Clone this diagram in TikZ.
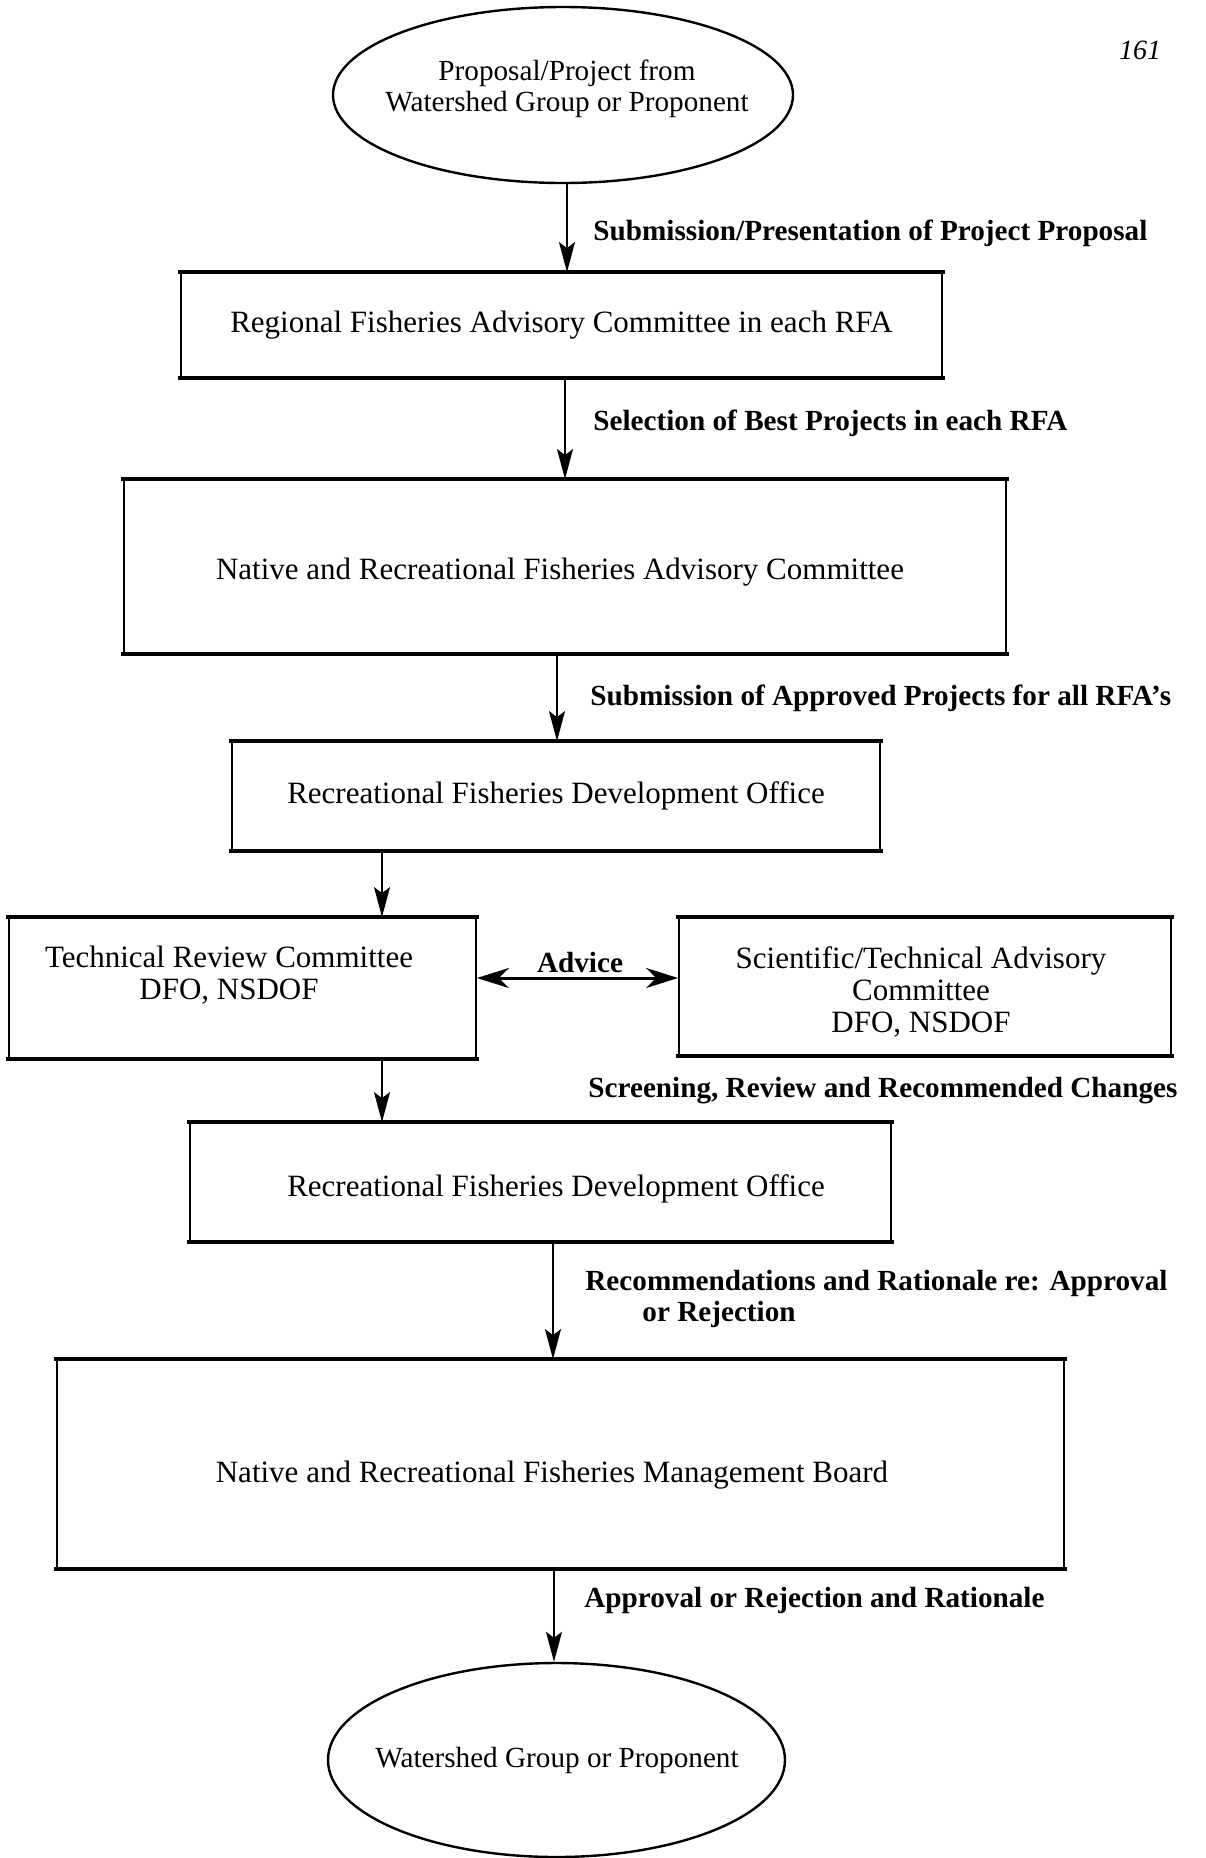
\documentclass[tikz,border=0pt]{standalone}
\usepackage{fontspec}
\setmainfont{Liberation Serif}
\usetikzlibrary{shapes.geometric,arrows.meta}
\begin{document}
\begin{tikzpicture}[x=0.5pt,y=-0.5pt,
  boxnode/.style={draw=black,line width=0.9pt,rectangle,inner sep=0pt,font=\fontsize{15.5}{18}\selectfont,align=center},
  ovalnode/.style={draw=black,line width=1.2pt,ellipse,inner sep=0pt},
  boxtext/.style={inner sep=0pt,align=center,font=\fontsize{15.5}{16}\selectfont},
  ovaltext/.style={inner sep=0pt,align=center,font=\fontsize{14.6}{15.3}\selectfont},
  lbl/.style={anchor=west,inner sep=0pt,font=\fontsize{14.6}{16}\selectfont\bfseries,align=left},
  arr/.style={line width=0.85pt,-{Stealth[length=15pt,width=8pt,inset=3pt]}},
  darr/.style={line width=1.5pt,{Stealth[length=16pt,width=10pt,inset=5pt]}-{Stealth[length=16pt,width=10pt,inset=5pt]}},
  thickedge/.style={line width=2pt,line cap=rect}]
\useasboundingbox (0,0) rectangle (1205,1858);
\node[anchor=center,font=\fontsize{14}{17}\selectfont\itshape] (pg) at (1140,50) {161};
% nodes
\node[ovalnode,minimum width=230pt,minimum height=88pt] (e1) at (563,95) {};
\node[ovaltext] (t1) at (567,89) {Proposal/Project from\\Watershed Group or Proponent};
\node[boxnode,minimum width=380.5pt,minimum height=52pt] (b1) at (561.5,325) {Regional Fisheries Advisory Committee in each RFA};
\node[boxnode,minimum width=441pt,minimum height=86.5pt] (b2) at (565,566.5) {};
\node[boxtext] (t2) at (560,572) {Native and Recreational Fisheries Advisory Committee};
\node[boxnode,minimum width=324pt,minimum height=54pt] (b3) at (556,796) {Recreational Fisheries Development Office};
\node[boxnode,minimum width=233.5pt,minimum height=70pt] (b4) at (242.5,988) {};
\node[boxtext,anchor=north] (t4) at (229,946) {Technical Review Committee\\DFO, NSDOF};
\node[boxnode,minimum width=246pt,minimum height=68.5pt] (b5) at (925,986.5) {};
\node[boxtext,anchor=north] (t5) at (921,946) {Scientific/Technical Advisory\\Committee\\DFO, NSDOF};
\node[boxnode,minimum width=350.5pt,minimum height=59pt] (b6) at (540.5,1182) {};
\node[boxtext] (t6) at (556,1189) {Recreational Fisheries Development Office};
\node[boxnode,minimum width=503.5pt,minimum height=104pt] (b7) at (560.5,1464) {};
\node[boxtext] (t7) at (552,1475) {Native and Recreational Fisheries Management Board};
\node[ovalnode,minimum width=228.5pt,minimum height=97pt] (e2) at (556.5,1760) {};
\node[ovaltext] (t8) at (557,1760) {Watershed Group or Proponent};
% thick horizontal edges
\foreach \b in {b1,b2,b3,b4,b5,b6,b7}{
  \draw[thickedge] (\b.north west) -- (\b.north east);
  \draw[thickedge] (\b.south west) -- (\b.south east);
}
% connectors
\draw[arr] (567,0 |- e1.south) -- (567,0 |- b1.north);
\draw[arr] (565,0 |- b1.south) -- (565,0 |- b2.north);
\draw[arr] (557,0 |- b2.south) -- (557,0 |- b3.north);
\draw[arr] (382,0 |- b3.south) -- (382,0 |- b4.north);
\draw[arr] (382,0 |- b4.south) -- (382,0 |- b6.north);
\draw[arr] (553,0 |- b6.south) -- (553,0 |- b7.north);
\draw[arr] (554,0 |- b7.south) -- (554,0 |- e2.north);
\draw[darr] (b4.east |- 0,978) -- (b5.west |- 0,978);
% labels
\node[lbl] (l1) at (593,233) {Submission/Presentation of Project Proposal};
\node[lbl] (l2) at (593,423) {Selection of Best Projects in each RFA};
\node[lbl] (l3) at (590,698) {Submission of Approved Projects for all RFA's};
\node[anchor=center,inner sep=0pt,font=\fontsize{14.6}{16}\selectfont\bfseries] (adv) at (580,962) {Advice};
\node[lbl] (l5) at (588,1091) {Screening, Review and Recommended Changes};
\node[lbl] (l6) at (585,1283) {Recommendations and Rationale re: Approval};
\node[lbl] (l6b) at (642,1314) {or Rejection};
\node[lbl] (l7) at (584,1600) {Approval or Rejection and Rationale};
\end{tikzpicture}
\end{document}
